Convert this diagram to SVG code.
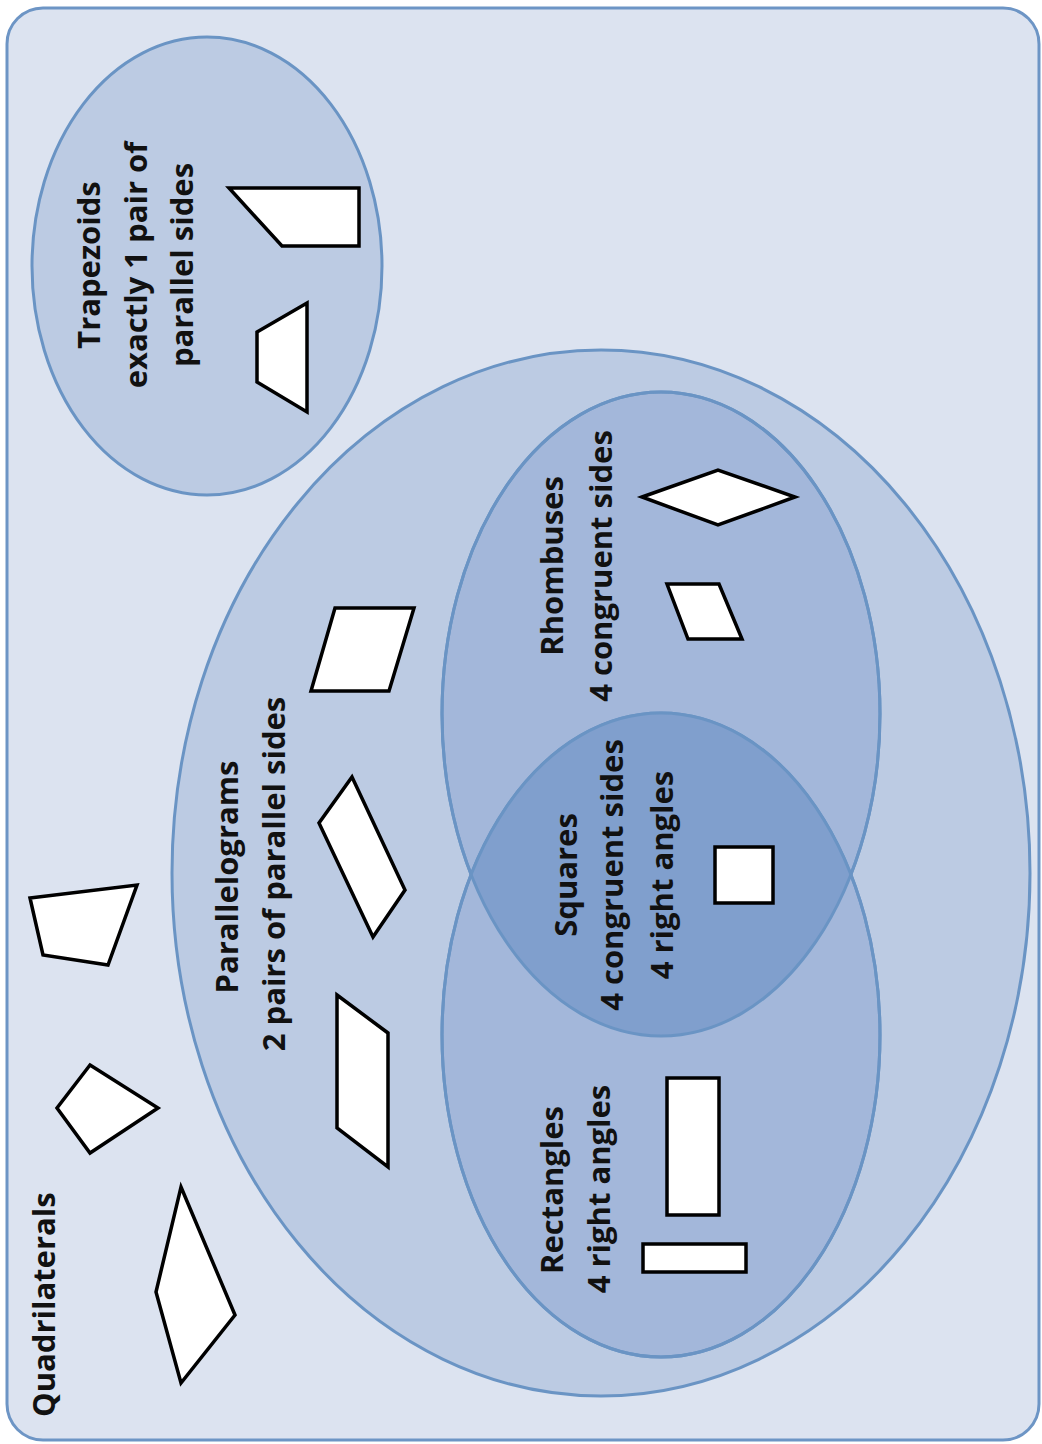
<svg xmlns="http://www.w3.org/2000/svg" width="1042" height="1444" viewBox="0 0 1042 1444">
<style>
.bg{fill:#dce3f0;stroke:#6d95c5;stroke-width:3}
.e1{fill:#bccbe3;stroke:#6a94c4;stroke-width:3}
.e2{fill:#a3b7da;stroke:#6a94c4;stroke-width:3}
.eo{fill:none;stroke:#6a94c4;stroke-width:3}
.lens{fill:#809fcd}
.sh{fill:#ffffff;stroke:#000000;stroke-width:3.5;stroke-linejoin:miter}
.t{font-family:"Open Sans","Liberation Sans",sans-serif;font-weight:bold;font-size:31px;fill:#111111;text-anchor:middle}
.ts{font-family:"Open Sans","Liberation Sans",sans-serif;font-weight:bold;font-size:31px;fill:#111111;text-anchor:start}
</style>
<defs>
<clipPath id="clipRh"><ellipse cx="661" cy="714" rx="219" ry="322"/></clipPath>
</defs>
<g id="quadrilaterals">
<rect class="bg" x="7" y="8" width="1032" height="1432" rx="36" ry="36"/>
<text class="ts" transform="translate(55,1417) rotate(-90)">Quadrilaterals</text>
<polygon class="sh" points="30,898 137,885 108,965 43,955"/>
<polygon class="sh" points="90,1065 158,1108 90,1153 57,1108"/>
<polygon class="sh" points="181,1187 235,1315 181,1383 156,1292"/>
</g>
<g id="trapezoids">
<ellipse class="e1" cx="207" cy="266" rx="175" ry="229"/>
<text class="t" transform="translate(100,265) rotate(-90)">Trapezoids</text>
<text class="t" transform="translate(147,265) rotate(-90)">exactly 1 pair of</text>
<text class="t" transform="translate(193,265) rotate(-90)">parallel sides</text>
<polygon class="sh" points="229,188 359,188 359,246 282,246"/>
<polygon class="sh" points="307,303 307,412 257,382 257,332"/>
</g>
<g id="parallelograms">
<ellipse class="e1" cx="601" cy="873" rx="429" ry="523"/>
<text class="t" transform="translate(238,877) rotate(-90)">Parallelograms</text>
<text class="t" transform="translate(285,874) rotate(-90)">2 pairs of parallel sides</text>
<polygon class="sh" points="335,608 414,608 389,691 311,691"/>
<polygon class="sh" points="352,777 405,890 373,937 319,823"/>
<polygon class="sh" points="337,995 388,1033 388,1167 337,1128"/>
</g>
<g id="rhombuses">
<ellipse class="e2" cx="661" cy="714" rx="219" ry="322"/>
</g>
<g id="rectangles">
<ellipse class="e2" cx="661" cy="1035" rx="219" ry="322"/>
</g>
<g id="squares">
<ellipse class="lens" clip-path="url(#clipRh)" cx="661" cy="1035" rx="219" ry="322"/>
<ellipse class="eo" cx="661" cy="714" rx="219" ry="322"/>
<ellipse class="eo" cx="661" cy="1035" rx="219" ry="322"/>
<text class="t" transform="translate(577,875) rotate(-90)">Squares</text>
<text class="t" transform="translate(623,875) rotate(-90)">4 congruent sides</text>
<text class="t" transform="translate(673,875) rotate(-90)">4 right angles</text>
<polygon class="sh" points="715,847 773,847 773,903 715,903"/>
</g>
<g id="rhombus-labels">
<text class="t" transform="translate(563,566) rotate(-90)">Rhombuses</text>
<text class="t" transform="translate(612,566) rotate(-90)">4 congruent sides</text>
<polygon class="sh" points="642,497 718,470 795,497 718,525"/>
<polygon class="sh" points="667,584 719,584 742,639 688,639"/>
</g>
<g id="rectangle-labels">
<text class="t" transform="translate(563,1190) rotate(-90)">Rectangles</text>
<text class="t" transform="translate(610,1189) rotate(-90)">4 right angles</text>
<polygon class="sh" points="667,1078 719,1078 719,1215 667,1215"/>
<polygon class="sh" points="643,1244 746,1244 746,1272 643,1272"/>
</g>
<g id="connectors"/>
</svg>
